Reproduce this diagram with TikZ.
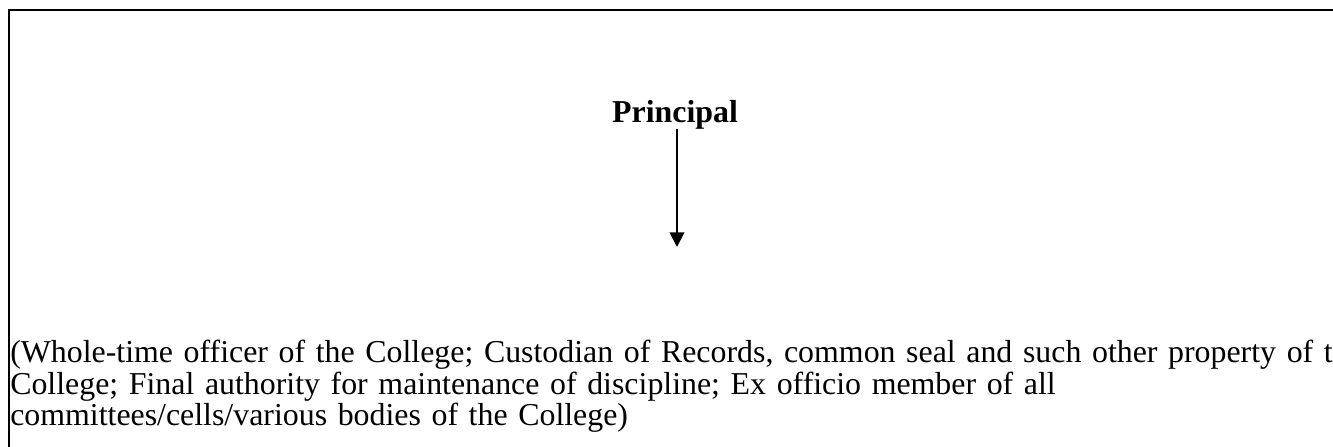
\documentclass[tikz,border=0pt]{standalone}
\usepackage{fontspec}
\setmainfont{Liberation Serif}
\usetikzlibrary{arrows.meta,positioning}
\tikzset{>={Triangle[width=11pt,length=11pt]}}
\setlength{\parindent}{0pt}
\setlength{\parskip}{0pt}

\begin{document}
\begin{tikzpicture}[x=0.75pt,y=-0.75pt]
    \tikzstyle{frame} = [draw, line width=1.9pt]
    \tikzstyle{title} = [inner sep=0pt, font=\fontsize{23.9}{28}\selectfont\bfseries]
    \tikzstyle{note} = [inner sep=0pt, text width=1100pt, font=\fontsize{23.9}{23.6}\selectfont]

    \useasboundingbox (0,0) rectangle (1333,446);
    \clip (0,0) rectangle (1333,446);
    \draw[frame] (9,10) rectangle (1360,470);

    \node[title, anchor=base] (principal) at (675,122) {Principal};
    \coordinate (tip) at (677,247);
    \draw[->, line width=1.5pt] (principal.south -| tip) -- (tip);

    \node[note, anchor=north west] (duties) at (10,340) {(Whole-time officer of the College; Custodian of Records, common seal and such other property of the\par
College; Final authority for maintenance of discipline; Ex officio member of all\par
committees/cells/various bodies of the College)};
\end{tikzpicture}
\end{document}
